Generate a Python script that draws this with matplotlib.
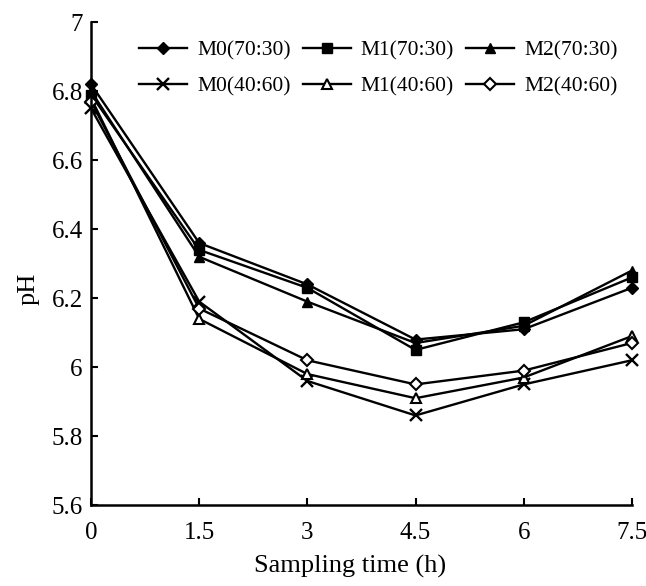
import matplotlib
matplotlib.use('Agg')
import matplotlib.pyplot as plt

plt.rcParams['font.family'] = ['Liberation Serif', 'DejaVu Serif']

time_h = [0, 1.5, 3, 4.5, 6, 7.5]
m0_70 = [6.82, 6.36, 6.24, 6.08, 6.11, 6.23]
m1_70 = [6.79, 6.34, 6.23, 6.05, 6.13, 6.26]
m2_70 = [6.80, 6.32, 6.19, 6.07, 6.12, 6.28]
m0_40 = [6.75, 6.19, 5.96, 5.86, 5.95, 6.02]
m1_40 = [6.78, 6.14, 5.98, 5.91, 5.97, 6.09]
m2_40 = [6.77, 6.17, 6.02, 5.95, 5.99, 6.07]

fig = plt.figure(figsize=(6.46, 5.86), dpi=100)
ax = fig.add_axes([0.141, 0.138, 0.837, 0.824])

h_m0_70, = ax.plot(time_h, m0_70, 'k-', marker='D', ms=6, lw=1.7, label='M0(70:30)')
h_m1_70, = ax.plot(time_h, m1_70, 'k-', marker='s', ms=6.5, lw=1.7, label='M1(70:30)')
h_m2_70, = ax.plot(time_h, m2_70, 'k-', marker='^', ms=7.5, lw=1.7, label='M2(70:30)')
h_m0_40, = ax.plot(time_h, m0_40, 'k-', marker='x', ms=9, mew=1.7, lw=1.7, label='M0(40:60)')
h_m1_40, = ax.plot(time_h, m1_40, 'k-', marker='^', ms=7.5, mfc='white', mew=1.5, lw=1.7, label='M1(40:60)')
h_m2_40, = ax.plot(time_h, m2_40, 'k-', marker='D', ms=6, mfc='white', mew=1.5, lw=1.7, label='M2(40:60)')

ax.set_xlim(0, 7.5)
ax.set_ylim(5.6, 7.0)
ax.set_xticks(time_h)
ax.set_xticklabels(['0', '1.5', '3', '4.5', '6', '7.5'])
ax.set_yticks([5.6, 5.8, 6.0, 6.2, 6.4, 6.6, 6.8, 7.0])
ax.set_yticklabels(['5.6', '5.8', '6', '6.2', '6.4', '6.6', '6.8', '7'])
ax.tick_params(direction='in', length=5, width=1.5, labelsize=18)
ax.tick_params(axis='x', pad=12)
ax.tick_params(axis='y', pad=6)
ax.spines['top'].set_visible(False)
ax.spines['right'].set_visible(False)
for s in ['left', 'bottom']:
    ax.spines[s].set_linewidth(1.8)
    ax.spines[s].set_clip_on(False)
for line in ax.lines:
    line.set_clip_on(False)

ax.set_xlabel('Sampling time (h)', fontsize=19)
ax.xaxis.label.set_va('center')
ax.xaxis.set_label_coords(0.479, -0.128)
ax.set_ylabel('pH', fontsize=19)
ax.yaxis.label.set_va('center')
ax.yaxis.set_label_coords(-0.116, 0.447)

handles = [h_m0_70, h_m0_40, h_m1_70, h_m1_40, h_m2_70, h_m2_40]
ax.legend(handles=handles, ncol=3, frameon=False, fontsize=15.5,
          loc='upper left', bbox_to_anchor=(139 / 646, 1 - 40 / 586),
          bbox_transform=fig.transFigure, borderpad=0, borderaxespad=0,
          handlelength=2.23, columnspacing=0.56, handletextpad=0.47,
          labelspacing=0.75)

fig.savefig('out.png', dpi=100)
